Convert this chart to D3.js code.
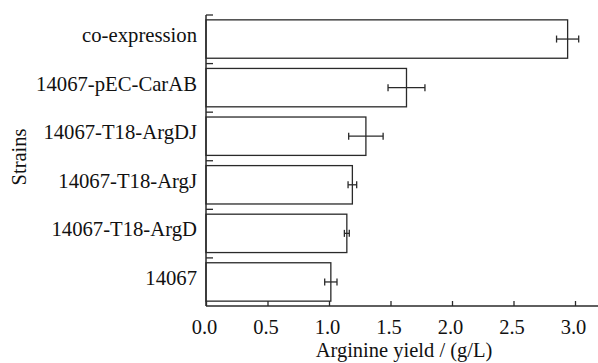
<!DOCTYPE html>
<html>
<head>
<meta charset="utf-8">
<script src="https://cdn.jsdelivr.net/npm/d3@7"></script>
<style>
  html, body { margin: 0; padding: 0; background: #fff; }
  svg { display: block; }
  text { font-family: "Liberation Serif", "Times New Roman", Times, serif; fill: #111; }
</style>
</head>
<body>
<svg id="chart" width="598" height="363"></svg>
<script>
const categories = ["co-expression", "14067-pEC-CarAB", "14067-T18-ArgDJ", "14067-T18-ArgJ", "14067-T18-ArgD", "14067"];
const values = [2.94, 1.63, 1.30, 1.19, 1.145, 1.015];
const errors = [0.09, 0.15, 0.14, 0.035, 0.02, 0.05];
const xTicks = [0.0, 0.5, 1.0, 1.5, 2.0, 2.5, 3.0];
const xTitle = "Arginine yield / (g/L)";
const yTitle = "Strains";

const svg = d3.select("#chart");
const pLeft = 206, pTop = 15, pBottom = 306, pRight = 598;
const stroke = "#2a2a2a";
const fontFam = "'Liberation Serif', 'Times New Roman', serif";

const x = d3.scaleLinear().domain([0, 3.2]).range([pLeft, pLeft + 3.2 * 123]);
const y = d3.scaleBand().domain(categories).range([pTop, pBottom]).paddingInner(0.21).paddingOuter(0.1);

// bars
svg.append("g").selectAll("rect").data(categories).join("rect")
  .attr("x", x(0))
  .attr("y", d => y(d))
  .attr("width", (d, i) => x(values[i]) - x(0))
  .attr("height", y.bandwidth())
  .attr("fill", "#fff")
  .attr("stroke", stroke)
  .attr("stroke-width", 1.3);

// error bars
const eb = svg.append("g").attr("stroke", stroke).attr("stroke-width", 1.3);
categories.forEach((c, i) => {
  const cy = y(c) + y.bandwidth() / 2;
  const x1 = x(values[i] - errors[i]), x2 = x(values[i] + errors[i]);
  eb.append("line").attr("x1", x1).attr("x2", x2).attr("y1", cy).attr("y2", cy);
  eb.append("line").attr("x1", x1).attr("x2", x1).attr("y1", cy - 3.5).attr("y2", cy + 3.5);
  eb.append("line").attr("x1", x2).attr("x2", x2).attr("y1", cy - 3.5).attr("y2", cy + 3.5);
});

// y axis line and boundary ticks
svg.append("line").attr("x1", pLeft).attr("x2", pLeft).attr("y1", pTop).attr("y2", pBottom)
  .attr("stroke", stroke).attr("stroke-width", 1.5);
svg.append("g").selectAll("line").data(categories).join("line")
  .attr("x1", pLeft).attr("x2", pLeft + 7)
  .attr("y1", d => y(d) - y.step() * y.paddingOuter())
  .attr("y2", d => y(d) - y.step() * y.paddingOuter())
  .attr("stroke", stroke).attr("stroke-width", 1.3);

// y labels via axis
const yAxis = svg.append("g").attr("transform", `translate(${pLeft},0)`)
  .call(d3.axisLeft(y).tickSize(0).tickPadding(9));
yAxis.select(".domain").remove();
yAxis.selectAll("text").attr("dy", "0.15em").style("font-size", "20.7px")
  .style("font-family", fontFam).attr("fill", "#111");

// x axis
const xAxis = svg.append("g").attr("transform", `translate(0,${pBottom})`)
  .call(d3.axisBottom(x).tickValues(xTicks).tickFormat(d3.format(".1f"))
    .tickSizeInner(-5).tickSizeOuter(0).tickPadding(13));
xAxis.select(".domain").attr("d", `M${pLeft},0H${pRight}`).attr("stroke", stroke).attr("stroke-width", 1.5);
xAxis.selectAll(".tick line").attr("stroke", stroke).attr("stroke-width", 1.3);
xAxis.selectAll("text").attr("dx", "-0.1em").style("font-size", "20.5px")
  .style("font-family", fontFam).attr("fill", "#111");

// titles
svg.append("text").attr("x", 404).attr("y", 357).attr("text-anchor", "middle")
  .style("font-size", "20.5px").text(xTitle);
svg.append("text").attr("transform", "translate(26,157) rotate(-90)").attr("text-anchor", "middle")
  .style("font-size", "20.5px").text(yTitle);
</script>
</body>
</html>
